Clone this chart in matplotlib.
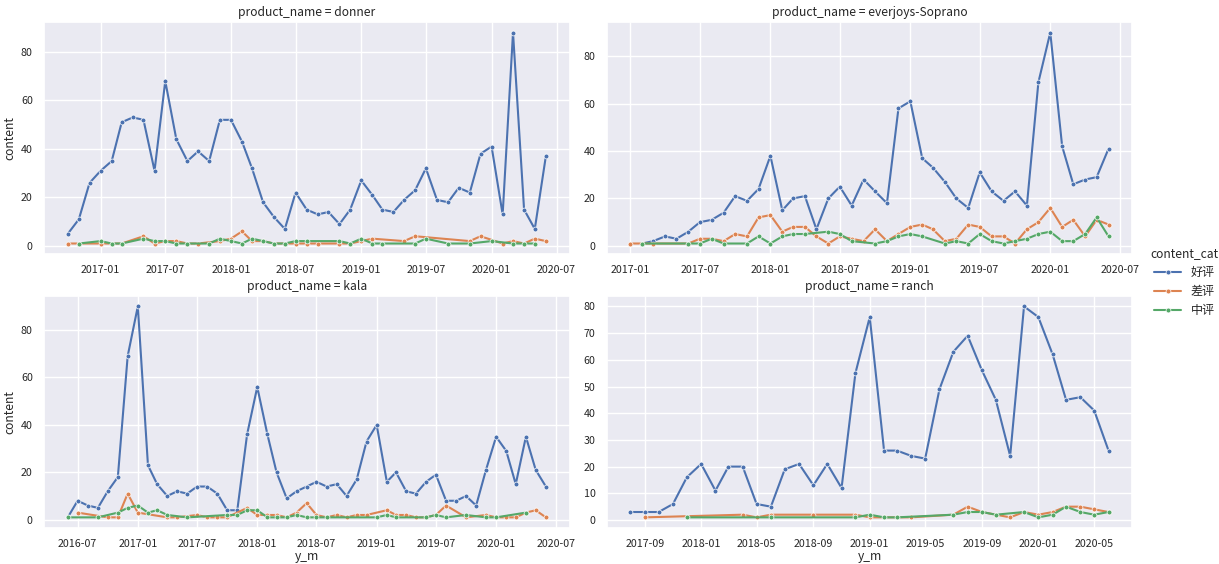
import numpy as np
import pandas as pd
import matplotlib
matplotlib.use("Agg")
import matplotlib.pyplot as plt
import seaborn as sns

N = None

# donner: monthly from 2016-10
donner_start = "2016-10"
donner_good = [5, 11, 26, 31, 35, 51, 53, 52, 31, 68, 44, 35, 39, 35, 52, 52, 43, 32, 18, 12,
               7, 22, 15, 13, 14, 9, 15, 27, 21, 15, 14, 19, 23, 32, 19, 18, 24, 22, 38, 41,
               13, 88, 15, 7, 37]
donner_bad = [1, 1, N, 1, 1, 1, N, 4, 1, 2, 2, 1, 1, N, 2, 3, 6, 2, 2, 1,
              1, 1, 1, 1, N, 1, 1, 2, 3, N, N, 2, 4, N, N, N, N, 2, 4, N,
              1, 2, 1, 3, 2]
donner_mid = [N, 1, N, 2, 1, 1, N, 3, 2, 2, 1, 1, N, 1, 3, 2, 1, 3, 2, 1,
              1, 2, 2, N, N, 2, 1, 3, 1, 1, N, N, 1, 3, N, 1, N, 1, N, 2,
              N, 1, 1, 1, N]

# everjoys-Soprano: monthly from 2017-01
ever_start = "2017-01"
ever_good = [N, 1, 2, 4, 3, 6, 10, 11, 14, 21, 19, 24, 38, 15, 20, 21, 7, 20, 25, 17,
             28, 23, 18, 58, 61, 37, 33, 27, 20, 16, 31, 23, 19, 23, 17, 69, 90, 42, 26, 28,
             29, 41]
ever_bad = [1, N, 1, N, N, 1, 3, 3, 2, 5, 4, 12, 13, 6, 8, 8, 4, 1, 4, 3,
            2, 7, 2, 5, 8, 9, 7, 2, 3, 9, 8, 4, 4, 1, 7, 10, 16, 8, 11, 4,
            11, 9]
ever_mid = [N, 1, N, N, N, 1, 1, 3, 1, N, 1, 4, 1, 4, 5, 5, N, 6, 5, 2,
            N, 1, 2, 4, 5, 4, N, 1, 2, 1, 5, 2, 1, 2, 3, 5, 6, 2, 2, 5,
            12, 4]

# kala: monthly from 2016-06
kala_start = "2016-06"
kala_good = [1, 8, 6, 5, 12, 18, 69, 90, 23, 15, 10, 12, 11, 14, 14, 11, 4, 4, 36, 56,
             36, 20, 9, 12, 14, 16, 14, 15, 10, 17, 33, 40, 16, 20, 12, 11, 16, 19, 8, 8,
             10, 6, 21, 35, 29, 15, 35, 21, 14]
kala_bad = [N, 3, N, N, 1, 1, 11, 3, N, N, 1, 1, N, 2, 1, 1, 1, N, 5, 2,
            2, 2, 1, 3, 7, 2, 1, 2, 1, 2, 2, N, 4, 2, 2, 1, 1, 2, 6, N,
            1, N, 2, 1, 1, 1, 3, 4, 1]
kala_mid = [1, N, N, 1, N, 3, 5, 6, 3, 4, 2, N, 1, N, N, N, 2, 2, 4, 4,
            1, 1, 1, 2, 1, 1, 1, N, N, N, N, 1, 2, 1, N, N, 1, 2, 1, N,
            2, N, 1, 1, N, N, 3, N, N]

# ranch: monthly from 2017-08
ranch_start = "2017-08"
ranch_good = [3, 3, 3, 6, 16, 21, 11, 20, 20, 6, 5, 19, 21, 13, 21, 12, 55, 76, 26, 26,
              24, 23, 49, 63, 69, 56, 45, 24, 80, 76, 62, 45, 46, 41, 26]
ranch_bad = [N, 1, N, N, N, N, N, N, 2, 1, 2, N, N, 2, N, N, 2, 1, 1, 1,
             1, N, N, 2, 5, 3, 2, 1, 3, 2, 3, 5, 5, 4, 3]
ranch_mid = [N, N, N, N, 1, N, N, N, N, N, 1, N, N, N, N, N, 1, 2, 1, 1,
             N, N, N, 2, 3, 3, 2, N, 3, 1, 2, 5, 3, 2, 3]

products = ["donner", "everjoys-Soprano", "kala", "ranch"]
starts = [donner_start, ever_start, kala_start, ranch_start]
series = [
    (donner_good, donner_bad, donner_mid),
    (ever_good, ever_bad, ever_mid),
    (kala_good, kala_bad, kala_mid),
    (ranch_good, ranch_bad, ranch_mid),
]
cats = ["好评", "差评", "中评"]

sns.set_theme(style="darkgrid")
plt.rcParams["font.family"] = ["Noto Sans CJK SC", "DejaVu Sans"]
plt.rcParams["axes.unicode_minus"] = False
colors = sns.color_palette("deep")

fig, axes = plt.subplots(2, 2, figsize=(12.19, 5.64), dpi=100)
axes = axes.flatten()

handles = []
for i, ax in enumerate(axes):
    vals = series[i]
    months = pd.date_range(starts[i], periods=len(vals[0]), freq="MS")
    for j, v in enumerate(vals):
        s = pd.Series([np.nan if x is None else x for x in v], index=months).dropna()
        line, = ax.plot(s.index, s.values, color=colors[j], marker="o", markersize=3.5,
                        markeredgecolor="white", markeredgewidth=0.5, linewidth=1.5, label=cats[j])
        if i == 0:
            handles.append(line)
    ax.set_title("product_name = " + products[i], fontsize=8.7, pad=4)
    ax.tick_params(labelsize=7.7, pad=2)
    if i % 2 == 0:
        ax.set_ylabel("content", fontsize=8.7, labelpad=3)
    if i >= 2:
        ax.set_xlabel("y_m", fontsize=8.7, labelpad=1)

fig.subplots_adjust(left=0.036, right=0.929, top=0.961, bottom=0.064, wspace=0.07, hspace=0.18)

leg = fig.legend(handles, cats, title="content_cat", loc="center left",
                 bbox_to_anchor=(0.935, 0.5), frameon=False, fontsize=8.7,
                 title_fontsize=8.7, handlelength=2.2)

fig.savefig("out.png", dpi=100)
